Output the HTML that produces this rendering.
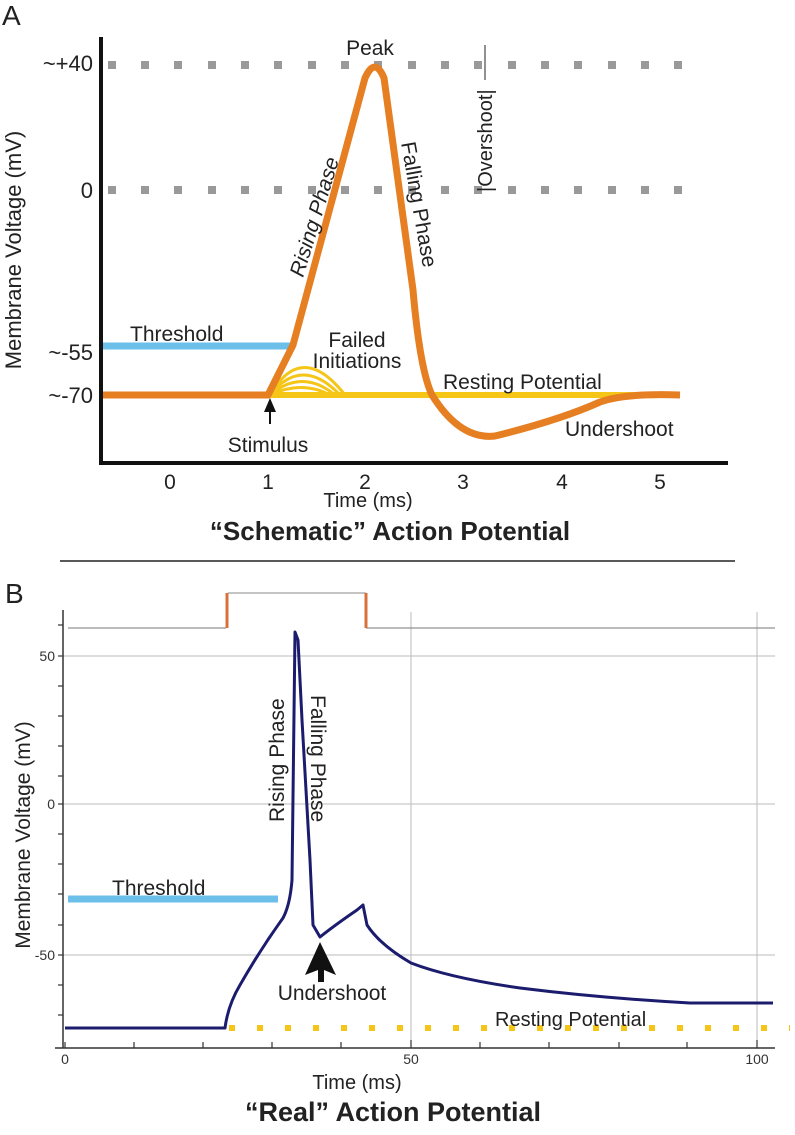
<!DOCTYPE html>
<html><head><style>
body{margin:0;background:#fff;}
svg text{font-family:"Liberation Sans",sans-serif;}
</style></head><body>
<svg width="795" height="1130" viewBox="0 0 795 1130" xmlns="http://www.w3.org/2000/svg">
<!-- Panel A -->
<text x="2" y="25" font-size="28" fill="#222">A</text>
<g fill="#999">
<g id="dr1">
<rect x="108" y="61" width="8" height="8"/><rect x="141" y="61" width="8" height="8"/><rect x="174" y="61" width="8" height="8"/><rect x="208" y="61" width="8" height="8"/><rect x="241" y="61" width="8" height="8"/><rect x="274" y="61" width="8" height="8"/><rect x="308" y="61" width="8" height="8"/><rect x="341" y="61" width="8" height="8"/><rect x="374" y="61" width="8" height="8"/><rect x="408" y="61" width="8" height="8"/><rect x="441" y="61" width="8" height="8"/><rect x="474" y="61" width="8" height="8"/><rect x="508" y="61" width="8" height="8"/><rect x="541" y="61" width="8" height="8"/><rect x="574" y="61" width="8" height="8"/><rect x="608" y="61" width="8" height="8"/><rect x="641" y="61" width="8" height="8"/><rect x="674" y="61" width="8" height="8"/>
</g>
<use href="#dr1" y="125"/>
</g>
<line x1="101" y1="37" x2="101" y2="465" stroke="#111" stroke-width="4"/>
<line x1="99" y1="463" x2="728" y2="463" stroke="#111" stroke-width="4"/>
<g font-size="22" fill="#222" text-anchor="end">
<text x="93" y="71">~+40</text><text x="93" y="198">0</text><text x="93" y="360">~-55</text><text x="93" y="403">~-70</text>
</g>
<text transform="translate(21,250) rotate(-90)" font-size="22" fill="#222" text-anchor="middle">Membrane Voltage (mV)</text>
<g font-size="21" fill="#222" text-anchor="middle">
<text x="170" y="489">0</text><text x="268" y="489">1</text><text x="365" y="489">2</text><text x="463" y="489">3</text><text x="562" y="489">4</text><text x="660" y="489">5</text>
<text x="368" y="507" font-size="20">Time (ms)</text>
<text x="390" y="540" font-size="26" font-weight="bold">“Schematic” Action Potential</text>
</g>
<line x1="103" y1="346" x2="290" y2="346" stroke="#6bbfe8" stroke-width="7"/>
<text x="130" y="341" font-size="21" fill="#222">Threshold</text>
<line x1="268" y1="395" x2="680" y2="395" stroke="#f5c518" stroke-width="6"/>
<g fill="none" stroke="#f5c518" stroke-width="3">
<path d="M270 395 Q302 340 345 395"/><path d="M270 395 Q302 355 340 395"/><path d="M270 395 Q302 368 335 395"/><path d="M270 395 Q302 380 330 395"/>
</g>
<path d="M103 395 L268 395 L293 345 L365 78 Q375 56 384 78 L413 290 Q420 370 432 395 Q460 440 495 436 Q560 420 600 402 Q625 393 680 395" fill="none" stroke="#e67e22" stroke-width="7" stroke-linejoin="round"/>
<text x="370" y="55" font-size="21" fill="#222" text-anchor="middle">Peak</text>
<text transform="translate(303,278) rotate(-73)" font-size="21" fill="#222" font-style="italic">Rising Phase</text>
<text transform="translate(401,143) rotate(80)" font-size="21" fill="#222">Falling Phase</text>
<text transform="translate(492,192) rotate(-90)" font-size="20" fill="#222">|Overshoot|</text>
<line x1="485" y1="45" x2="485" y2="80" stroke="#222" stroke-width="1"/>
<text x="357" y="347" font-size="21" fill="#222" text-anchor="middle">Failed</text>
<text x="357" y="368" font-size="21" fill="#222" text-anchor="middle">Initiations</text>
<text x="443" y="389" font-size="21" fill="#222">Resting Potential</text>
<text x="565" y="436" font-size="21" fill="#222">Undershoot</text>
<line x1="270" y1="424" x2="270" y2="408" stroke="#111" stroke-width="2"/>
<path d="M270 398 L264 412 L276 412 Z" fill="#111"/>
<text x="268" y="452" font-size="21" fill="#222" text-anchor="middle">Stimulus</text>
<line x1="60" y1="561" x2="735" y2="561" stroke="#222" stroke-width="1.5"/>
<!-- Panel B -->
<text x="5" y="603" font-size="28" fill="#222">B</text>
<g stroke="#bbb" stroke-width="1">
<line x1="63" y1="656" x2="775" y2="656"/><line x1="63" y1="804" x2="775" y2="804"/><line x1="63" y1="955" x2="775" y2="955"/>
<line x1="411" y1="612" x2="411" y2="1048"/><line x1="757" y1="612" x2="757" y2="1048"/>
</g>
<line x1="68" y1="628" x2="226" y2="628" stroke="#777" stroke-width="1"/>
<line x1="366" y1="628" x2="775" y2="628" stroke="#777" stroke-width="1"/>
<line x1="228" y1="593" x2="366" y2="593" stroke="#888" stroke-width="1"/>
<line x1="227" y1="593" x2="227" y2="628" stroke="#d9703c" stroke-width="3"/>
<line x1="366" y1="593" x2="366" y2="628" stroke="#d9703c" stroke-width="3"/>
<line x1="63" y1="610" x2="63" y2="1048" stroke="#333" stroke-width="1.5"/>
<line x1="55" y1="1048" x2="775" y2="1048" stroke="#333" stroke-width="1.5"/>
<g stroke="#333" stroke-width="1.2">
<line x1="58" y1="625" x2="63" y2="625"/><line x1="58" y1="686" x2="63" y2="686"/><line x1="58" y1="716" x2="63" y2="716"/><line x1="58" y1="746" x2="63" y2="746"/><line x1="58" y1="776" x2="63" y2="776"/><line x1="58" y1="834" x2="63" y2="834"/><line x1="58" y1="864" x2="63" y2="864"/><line x1="58" y1="894" x2="63" y2="894"/><line x1="58" y1="925" x2="63" y2="925"/><line x1="58" y1="985" x2="63" y2="985"/><line x1="58" y1="1015" x2="63" y2="1015"/>
<line x1="58" y1="656" x2="63" y2="656"/><line x1="58" y1="804" x2="63" y2="804"/><line x1="58" y1="955" x2="63" y2="955"/>
<line x1="65" y1="1042" x2="65" y2="1048"/><line x1="134" y1="1042" x2="134" y2="1048"/><line x1="203" y1="1042" x2="203" y2="1048"/><line x1="272" y1="1042" x2="272" y2="1048"/><line x1="341" y1="1042" x2="341" y2="1048"/><line x1="411" y1="1040" x2="411" y2="1048"/><line x1="480" y1="1042" x2="480" y2="1048"/><line x1="549" y1="1042" x2="549" y2="1048"/><line x1="619" y1="1042" x2="619" y2="1048"/><line x1="687" y1="1042" x2="687" y2="1048"/><line x1="757" y1="1040" x2="757" y2="1048"/>
</g>
<g font-size="14" fill="#333" text-anchor="end">
<text x="55" y="661">50</text><text x="55" y="809">0</text><text x="55" y="960">-50</text>
</g>
<g font-size="14" fill="#333" text-anchor="middle">
<text x="65" y="1064">0</text><text x="411" y="1064">50</text><text x="757" y="1064">100</text>
</g>
<text transform="translate(30,835) rotate(-90)" font-size="21" fill="#222" text-anchor="middle">Membrane Voltage (mV)</text>
<text x="357" y="1089" font-size="20" fill="#222" text-anchor="middle">Time (ms)</text>
<text x="393" y="1121" font-size="27" font-weight="bold" fill="#222" text-anchor="middle">“Real” Action Potential</text>
<line x1="68" y1="899" x2="278" y2="899" stroke="#6bbfe8" stroke-width="7"/>
<text x="112" y="895" font-size="21" fill="#222">Threshold</text>
<line x1="229" y1="1028" x2="790" y2="1028" stroke="#f5c518" stroke-width="6" stroke-dasharray="6 22"/>
<text x="495" y="1026" font-size="20" fill="#222">Resting Potential</text>
<path d="M65 1028 L225 1028 Q228 1005 240 985 Q260 950 283 918 Q290 905 292 880 L295 632 L298 640 L302 720 L310 860 L313 925 L320 937 Q335 925 357 910 L363 905 L367 925 Q380 945 411 963 Q450 978 520 988 Q600 998 690 1003 L773 1003" fill="none" stroke="#1c1c6e" stroke-width="3" stroke-linejoin="round"/>
<text transform="translate(284,822) rotate(-90)" font-size="21" fill="#222">Rising Phase</text>
<text transform="translate(311,695) rotate(90)" font-size="21" fill="#222">Falling Phase</text>
<path d="M320 942 L305 975 L318 970 L318 982 L324 982 L324 970 L336 975 Z" fill="#111"/>
<text x="332" y="1000" font-size="21" fill="#222" text-anchor="middle">Undershoot</text>
</svg>
</body></html>
